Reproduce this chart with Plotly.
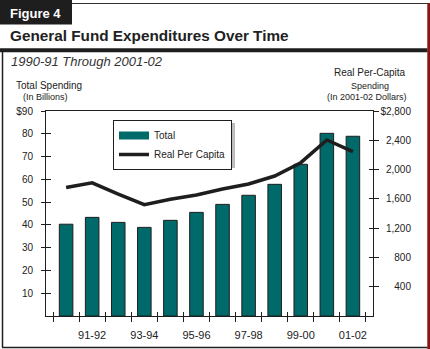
import plotly.graph_objects as go

# ---- data ----
years = ["90-91", "91-92", "92-93", "93-94", "94-95", "95-96",
         "96-97", "97-98", "98-99", "99-00", "00-01", "01-02"]
total_spending = [40.3, 43.3, 41.1, 38.9, 42.0, 45.5, 49.0, 53.0, 57.8, 66.6, 80.2, 78.9]
real_per_capita = [1755, 1818, 1665, 1520, 1594, 1653, 1735, 1803, 1912, 2094, 2404, 2245]
x_tick_labels = ["", "91-92", "", "93-94", "", "95-96", "", "97-98", "", "99-00", "", "01-02"]
left_tickvals = [10, 20, 30, 40, 50, 60, 70, 80, 90]
left_ticktext = ["10", "20", "30", "40", "50", "60", "70", "80", "$90"]
right_tickvals = [400, 800, 1200, 1600, 2000, 2400, 2800]
right_ticktext = ["400", "800", "1,200", "1,600", "2,000", "2,400", "$2,800"]

W, H = 430, 349
ML, MR, MT, MB = 46, 17, 111, 33
PW = W - ML - MR
PH = H - MT - MB


def PX(x):
    return (x - ML) / PW


def PY(y):
    return (H - MB - y) / PH


FONT = "Liberation Sans, Arial, sans-serif"
NARROW = "Liberation Sans Narrow, Arial Narrow, Liberation Sans, Arial, sans-serif"
TEAL = "#006a6a"
INK = "#1e1e1e"

fig = go.Figure()
# legend-only entry for the bars (wide swatch like the original)
fig.add_trace(go.Scatter(
    x=[None], y=[None], name="Total", mode="lines",
    line=dict(color=TEAL, width=8), xaxis="x", yaxis="y",
))
fig.add_trace(go.Bar(
    x=years, y=total_spending, name="Total", showlegend=False,
    marker=dict(color=TEAL, line=dict(color=INK, width=1)),
    xaxis="x", yaxis="y",
))
fig.add_trace(go.Scatter(
    x=years, y=real_per_capita, name="Real Per Capita", mode="lines",
    line=dict(color=INK, width=3.5),
    xaxis="x", yaxis="y2",
))
# invisible helper traces so the overlay axes (inner ticks, right labels) get drawn
helpers = [("x2", "y", total_spending), ("x", "y4", total_spending),
           ("x", "y5", real_per_capita), ("x", "y3", real_per_capita)]
for xa, ya, vals in helpers:
    fig.add_trace(go.Scatter(
        x=years, y=vals, mode="markers", marker=dict(opacity=0),
        showlegend=False, hoverinfo="skip", xaxis=xa, yaxis=ya,
    ))

xend = (373 - ML) / PW

fig.update_layout(
    width=W, height=H,
    margin=dict(l=ML, r=MR, t=MT, b=MB, pad=0, autoexpand=False),
    paper_bgcolor="white", plot_bgcolor="white",
    font=dict(family=FONT, color="#222", size=11),
    bargap=0.48,
    showlegend=True,
    legend=dict(
        x=PX(113), y=PY(120), xanchor="left", yanchor="top",
        bgcolor="white", bordercolor=INK, borderwidth=1,
        font=dict(family=FONT, size=10, color="#222"),
        tracegroupgap=0, itemwidth=30,
    ),
    xaxis=dict(
        domain=[0, xend], type="category", categoryorder="array", categoryarray=years,
        tickmode="array", tickvals=years, ticktext=x_tick_labels, tickangle=0,
        tickson="boundaries", ticks="outside", ticklen=5, tickwidth=1, tickcolor=INK,
        showline=True, linecolor=INK, linewidth=1, mirror=True,
        showgrid=False, zeroline=False, fixedrange=True, automargin=False,
        tickfont=dict(family=NARROW, size=11, color="#222"), ticklabelstandoff=9,
    ),
    xaxis2=dict(
        domain=[0, xend], type="category", categoryorder="array", categoryarray=years,
        overlaying="x", anchor="y", side="bottom",
        tickmode="array", tickvals=years, tickson="boundaries",
        ticks="inside", ticklen=4, tickwidth=1, tickcolor=INK, automargin=False,
        showticklabels=False, showline=False, showgrid=False, zeroline=False,
    ),
    yaxis=dict(
        range=[0, 90], tickmode="array", tickvals=left_tickvals, ticktext=left_ticktext,
        ticks="outside", ticklen=4, tickwidth=1, tickcolor=INK,
        showline=True, linecolor=INK, linewidth=1, automargin=False,
        showgrid=False, zeroline=False,
        tickfont=dict(family=NARROW, size=10, color="#222"), ticklabelstandoff=6,
    ),
    yaxis4=dict(
        range=[0, 90], overlaying="y", anchor="x", side="left",
        tickmode="array", tickvals=left_tickvals, automargin=False,
        ticks="inside", ticklen=5, tickwidth=1, tickcolor=INK,
        showticklabels=False, showline=False, showgrid=False, zeroline=False,
    ),
    yaxis2=dict(
        range=[0, 2800], overlaying="y", anchor="x", side="right",
        tickmode="array", tickvals=right_tickvals, automargin=False,
        ticks="outside", ticklen=5, tickwidth=1, tickcolor=INK,
        showticklabels=False, showline=True, linecolor=INK, linewidth=1,
        showgrid=False, zeroline=False,
    ),
    yaxis5=dict(
        range=[0, 2800], overlaying="y", anchor="x", side="right",
        tickmode="array", tickvals=right_tickvals, automargin=False,
        ticks="inside", ticklen=4, tickwidth=1, tickcolor=INK,
        showticklabels=False, showline=False, showgrid=False, zeroline=False,
    ),
    yaxis3=dict(
        range=[0, 2800], overlaying="y", anchor="free", position=1.0, side="left",
        tickmode="array", tickvals=right_tickvals, ticktext=right_ticktext,
        ticks="", showline=False, showgrid=False, zeroline=False, automargin=False,
        tickfont=dict(family=NARROW, size=10, color="#222"), ticklabelstandoff=2,
    ),
)

shapes = [
    # legend shadow
    dict(type="rect", xref="paper", yref="paper", x0=PX(116), x1=PX(235), y0=PY(123), y1=PY(168),
         fillcolor="#bdbdbd", line=dict(width=0), layer="above"),
    # header box
    dict(type="rect", xref="paper", yref="paper", x0=PX(0), x1=PX(72), y0=PY(0), y1=PY(24.5),
         fillcolor=INK, line=dict(width=0), layer="above"),
    # top thin line
    dict(type="line", xref="paper", yref="paper", x0=PX(72), x1=PX(428), y0=PY(3.5), y1=PY(3.5),
         line=dict(color="#333", width=1), layer="above"),
    # thick divider
    dict(type="rect", xref="paper", yref="paper", x0=PX(0), x1=PX(427.5), y0=PY(48.3), y1=PY(52.3),
         fillcolor=INK, line=dict(width=0), layer="above"),
    # right red edge
    dict(type="rect", xref="paper", yref="paper", x0=PX(427.3), x1=PX(430), y0=PY(3), y1=PY(349),
         fillcolor="#8b1414", line=dict(width=0), layer="above"),
    # left border
    dict(type="line", xref="paper", yref="paper", x0=PX(2.5), x1=PX(2.5), y0=PY(52), y1=PY(347.5),
         line=dict(color=INK, width=1.5), layer="above"),
    # bottom border
    dict(type="line", xref="paper", yref="paper", x0=PX(2), x1=PX(427.5), y0=PY(347.5), y1=PY(347.5),
         line=dict(color=INK, width=1.5), layer="above"),
]
fig.update_layout(shapes=shapes)


def ann(text, x, y, size, xanchor="left", bold=False, italic=False, color="#222", family=FONT):
    t = text
    if bold:
        t = "<b>" + t + "</b>"
    if italic:
        t = "<i>" + t + "</i>"
    fig.add_annotation(
        text=t, x=PX(x), y=PY(y), xref="paper", yref="paper",
        xanchor=xanchor, yanchor="middle", showarrow=False,
        font=dict(family=family, size=size, color=color),
    )


ann("Figure 4", 8, 13, 13, bold=True, color="white")
ann("General Fund Expenditures Over Time", 8, 36, 15.3, bold=True, color="#222")
ann("1990-91 Through 2001-02", 9, 61, 13, italic=True, color="#333")
ann("Total Spending", 48.5, 86, 10, xanchor="center", family=NARROW)
ann("(In Billions)", 45, 97, 9, xanchor="center", family=NARROW)
ann("Real Per-Capita", 369.5, 72, 10, xanchor="center", family=NARROW)
ann("Spending", 369.5, 86, 9, xanchor="center", family=NARROW)
ann("(In 2001-02 Dollars)", 367, 97, 9, xanchor="center", family=NARROW)

fig.write_html("out.html")
